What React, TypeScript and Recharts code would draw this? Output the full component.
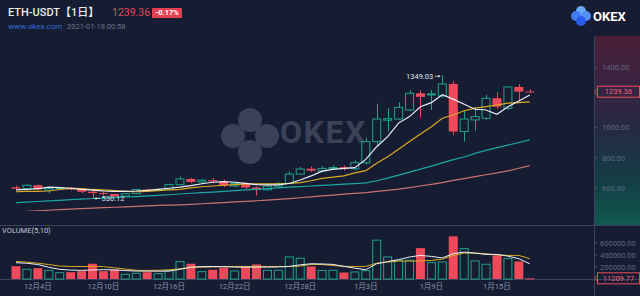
import React from 'react';
import { ComposedChart, Bar, Line, XAxis, YAxis, ReferenceDot, ReferenceLine } from 'recharts';

const dates = [
  '12月2日','12月3日','12月4日','12月5日','12月6日','12月7日','12月8日','12月9日','12月10日','12月11日',
  '12月12日','12月13日','12月14日','12月15日','12月16日','12月17日','12月18日','12月19日','12月20日','12月21日',
  '12月22日','12月23日','12月24日','12月25日','12月26日','12月27日','12月28日','12月29日','12月30日','12月31日',
  '1月1日','1月2日','1月3日','1月4日','1月5日','1月6日','1月7日','1月8日','1月9日','1月10日',
  '1月11日','1月12日','1月13日','1月14日','1月15日','1月16日','1月17日','1月18日',
];
const tickDates = ['12月4日','12月10日','12月16日','12月22日','12月28日','1月3日','1月9日','1月15日'];

const opens = [605,596,618,584,596,602,592,575,566,560,546,562,590,584,590,622,660,640,652,644,613,630,603,588,612,630,692,728,713,730,738,728,768,908,1050,1058,1118,1229,1218,1211,1291,975,1052,1063,1196,1129,1271,1241];
const highs = [615,625,624,600,606,605,596,582,578,563,566,595,594,597,628,676,668,660,665,655,636,638,610,620,640,710,740,742,745,750,748,785,935,1160,1130,1170,1250,1250,1251,1349.03,1311,1118,1140,1218,1235,1275,1290,1255];
const lows = [588,590,584,565,586,584,566,530.12,550,536,541,558,576,578,585,618,632,634,630,606,605,595,550,585,608,626,688,705,705,722,715,716,755,886,975,1050,1110,1069,1118,1200,952,908,982,1052,1125,1118,1180,1230];
const closes = [596,618,590,596,602,592,575,566,560,546,562,590,584,590,622,660,640,652,644,615,630,603,588,612,630,692,726,715,730,736,728,768,908,1058,1060,1135,1229,1205,1225,1291,975,1058,1074,1196,1140,1271,1240,1239.36];

const ma5 = [587,590,595,605,602,598,591,586,580,578,578,580,584,591,598,605,615,628,638,642,638,630,622,620,620,630,653,680,712,724,730,735,790,874,941,1031,1074,1140,1167,1220,1190,1156,1123,1118,1090,1140,1178,1218];
const ma10 = [575,577,578,580,590,597,595,590,587,582,578,575,578,582,587,591,600,608,613,618,622,627,627,627,627,630,635,648,664,672,680,700,715,764,808,857,908,959,1007,1063,1085,1113,1130,1140,1151,1163,1167,1172];
const ma30 = [502,506,510,514,518,522,526,530,533,536,540,543,547,551,555,560,565,569,573,578,582,587,591,596,600,605,609,613,617,621,625,629,634,648,665,685,705,725,745,767,788,806,830,850,868,885,902,919];
const ma60 = [440,444,448,452,456,460,463,466,469,472,475,478,481,484,486,488,491,495,499,503,507,511,515,519,524,529,535,541,547,553,559,564,569,577,584,592,602,613,624,636,650,662,675,688,700,714,731,748];

const volumes = [213000,170000,180000,153000,113000,113000,130000,253000,130000,158000,87000,103000,113000,97000,153000,297000,253000,130000,153000,187000,142000,208000,242000,153000,153000,375000,353000,208000,150000,153000,108000,125000,147000,653000,375000,320000,320000,513000,280000,292000,708000,513000,308000,253000,392000,347000,292000,11209.77];
const volMa5 = [270000,262000,240000,195000,160000,148000,142000,150000,155000,150000,140000,132000,130000,130000,130000,160000,197000,205000,208000,205000,197000,197000,197000,197000,200000,208000,235000,253000,250000,242000,210000,180000,155000,253000,290000,320000,365000,392000,375000,350000,420000,447000,430000,408000,408000,380000,337000,253000];
const volMa10 = [292000,280000,263000,240000,215000,208000,208000,208000,205000,185000,165000,145000,142000,145000,153000,170000,190000,197000,200000,205000,208000,208000,208000,208000,208000,208000,215000,242000,240000,225000,210000,208000,208000,263000,280000,297000,297000,300000,308000,330000,392000,430000,430000,420000,400000,392000,392000,337000];

const priceTicks = [600, 800, 1000, 1400];
const volTicks = [200000, 400000, 600000];

const GREEN = '#1fa387';
const RED = '#ee4a5b';
const BG = '#161d33';
const AXIS = '#3a4260';
const FONT = "Roboto, 'Noto Sans CJK SC', sans-serif";

const data = dates.map((date, i) => ({
  date,
  range: [lows[i], highs[i]],
  open: opens[i],
  high: highs[i],
  low: lows[i],
  close: closes[i],
  ma5: ma5[i],
  ma10: ma10[i],
  ma30: ma30[i],
  ma60: ma60[i],
  volume: volumes[i],
  up: closes[i] >= opens[i],
  vma5: volMa5[i],
  vma10: volMa10[i],
}));

let hiIdx = 0;
let loIdx = 0;
highs.forEach((h, i) => { if (h > highs[hiIdx]) hiIdx = i; });
lows.forEach((l, i) => { if (l < lows[loIdx]) loIdx = i; });
const last = data.length - 1;

const Candle = (props: any) => {
  const { x, y, width, height, payload } = props;
  if (x == null || y == null) return null;
  const top = Math.min(y, y + height);
  const h = Math.abs(height);
  const { open, close, high, low } = payload;
  const up = close >= open;
  const color = up ? GREEN : RED;
  const k = high - low > 0 ? h / (high - low) : 0;
  const bTop = top + (high - Math.max(open, close)) * k;
  const bBot = top + (high - Math.min(open, close)) * k;
  const cx = Math.round(x + width / 2) + 0.5;
  const bh = Math.max(bBot - bTop, 1);
  if (up) {
    return (
      <g>
        <line x1={cx} x2={cx} y1={top} y2={bTop} stroke={color} strokeWidth={1} />
        <line x1={cx} x2={cx} y1={bTop + bh} y2={top + h} stroke={color} strokeWidth={1} />
        <rect x={x + 0.5} y={bTop} width={width - 1} height={bh} fill="none" stroke={color} strokeWidth={1} />
      </g>
    );
  }
  return (
    <g>
      <line x1={cx} x2={cx} y1={top} y2={top + h} stroke={color} strokeWidth={1} />
      <rect x={x} y={bTop} width={width} height={bh} fill={color} />
    </g>
  );
};

const VolBar = (props: any) => {
  const { x, y, width, height, payload } = props;
  if (x == null || y == null) return null;
  const top = Math.min(y, y + height);
  const h = Math.max(Math.abs(height), 1);
  if (payload.up) {
    return <rect x={x + 0.5} y={top + 0.5} width={width - 1} height={h - 0.5} fill="none" stroke={GREEN} strokeWidth={1} />;
  }
  return <rect x={x} y={top} width={width} height={h} fill={RED} />;
};

const marker = (text: string) => (props: any) => {
  const vb = props.viewBox || {};
  const cy = vb.y;
  const xr = (vb.x || 0) + (vb.width || 0);
  return (
    <g>
      <path d={`M${xr + 3} ${cy - 3} L${xr + 1} ${cy} L${xr + 3} ${cy + 3}`} fill="none" stroke={RED} strokeWidth={0.8} />
      <rect x={xr + 3.5} y={cy - 5.5} width={42} height={11} fill="none" stroke={RED} strokeWidth={1} />
      <text x={xr + 24.5} y={cy} dy="0.35em" textAnchor="middle" fill="#f2627a" fontSize={7.5} fontFamily={FONT}>{text}</text>
    </g>
  );
};

const hiLabel = (props: any) => {
  const { x, y } = props.viewBox || {};
  return (
    <g>
      <text x={x - 9} y={y + 1} dy="0.35em" textAnchor="end" fill="#dfe1e8" fontSize={7.5} fontFamily={FONT}>{highs[hiIdx].toFixed(2)}</text>
      <line x1={x - 7.5} x2={x - 2} y1={y + 1} y2={y + 1} stroke="#dfe1e8" strokeWidth={0.8} />
      <path d={`M${x - 4} ${y - 0.5} L${x - 2} ${y + 1} L${x - 4} ${y + 2.5}`} fill="#dfe1e8" />
    </g>
  );
};

const loLabel = (props: any) => {
  const { x, y } = props.viewBox || {};
  return (
    <g>
      <line x1={x + 2} x2={x + 7.5} y1={y} y2={y} stroke="#dfe1e8" strokeWidth={0.8} />
      <path d={`M${x + 4} ${y - 1.5} L${x + 2} ${y} L${x + 4} ${y + 1.5}`} fill="#dfe1e8" />
      <text x={x + 9} y={y} dy="0.35em" textAnchor="start" fill="#dfe1e8" fontSize={7.5} fontFamily={FONT}>{lows[loIdx].toFixed(2)}</text>
    </g>
  );
};

const PAD = { left: 10.5, right: 58.8 };
const tickStyle = { fill: '#5f6783', fontSize: 7.5, fontFamily: FONT };

export default function App() {
  return (
    <div style={{ position: 'fixed', left: 0, top: 0, width: 640, height: 296, background: BG, overflow: 'hidden', fontFamily: FONT }}>
      {/* right axis gradient */}
      <div style={{ position: 'absolute', left: 595, top: 36, width: 45, height: 189, background: 'linear-gradient(to bottom, #4a1f37 0%, #3a2340 25%, #242a44 50%, #123f45 78%, #0f5a4f 100%)' }} />
      {/* watermark */}
      <svg width={200} height={80} style={{ position: 'absolute', left: 210, top: 95 }}>
        <g fill="#3a4257">
          <circle cx={40} cy={25} r={12} />
          <circle cx={23} cy={41} r={12} />
          <circle cx={57} cy={41} r={12} />
          <circle cx={40} cy={57} r={12} />
        </g>
        <rect x={37.5} y={38.5} width={5} height={5} fill={BG} transform="rotate(45 40 41)" />
        <text x={70} y={48} fill="#3a4257" fontSize={32} fontWeight={700} fontFamily="Roboto, sans-serif" letterSpacing={1.5}>OKEX</text>
      </svg>
      {/* header */}
      <div style={{ position: 'absolute', left: 8, top: 6, fontSize: 11, lineHeight: '13px', color: '#e8eaf0', fontWeight: 500, whiteSpace: 'nowrap' }}>ETH-USDT【1日】</div>
      <div style={{ position: 'absolute', left: 112, top: 6.5, fontSize: 10.5, lineHeight: '12px', color: '#e2475a', whiteSpace: 'nowrap' }}>1239.36</div>
      <div style={{ position: 'absolute', left: 152, top: 7.5, width: 30, height: 10, background: '#e4404f', color: '#ffffff', fontSize: 7.5, lineHeight: '10px', fontWeight: 700, textAlign: 'center', borderRadius: 1 }}>-0.17%</div>
      <div style={{ position: 'absolute', left: 8, top: 21.5, fontSize: 8, lineHeight: '10px', color: '#3569d8', whiteSpace: 'nowrap' }}>www.okex.com</div>
      <div style={{ position: 'absolute', left: 67, top: 21.5, fontSize: 7.5, lineHeight: '10px', color: '#6a728c', whiteSpace: 'nowrap' }}>2021-01-18 00:58</div>
      {/* logo */}
      <svg width={72} height={24} style={{ position: 'absolute', left: 566, top: 3 }}>
        <circle cx={15} cy={8} r={5} fill="#6aa8f8" />
        <circle cx={10} cy={13} r={5} fill="#3f7cf4" />
        <circle cx={20} cy={13} r={5} fill="#5590f6" />
        <circle cx={15} cy={18} r={5} fill="#2a5cea" />
        <text x={27} y={18} fill="#ffffff" fontSize={13} fontWeight={700} fontFamily="Roboto, sans-serif">OKEX</text>
      </svg>
      {/* divider lines */}
      <div style={{ position: 'absolute', left: 0, top: 225, width: 640, height: 1, background: AXIS }} />
      <div style={{ position: 'absolute', left: 0, top: 279, width: 640, height: 1, background: AXIS }} />
      <div style={{ position: 'absolute', left: 594, top: 36, width: 1, height: 260, background: AXIS }} />
      <div style={{ position: 'absolute', left: 2, top: 226, fontSize: 7.5, lineHeight: '10px', color: '#c3c7d3', whiteSpace: 'nowrap' }}>VOLUME(5,10)</div>

      {/* price chart */}
      <div style={{ position: 'absolute', left: 0, top: 40, width: 640, height: 171 }}>
        <ComposedChart width={640} height={171} data={data} margin={{ top: 0, right: 0, bottom: 0, left: 0 }}>
          <XAxis dataKey="date" hide padding={PAD} />
          <YAxis orientation="right" width={46} domain={[447, 1583]} allowDataOverflow ticks={priceTicks} interval={0}
            tickFormatter={(v: number) => v.toFixed(2)} axisLine={false} tickLine={{ stroke: '#4a5270' }} tickSize={3} tickMargin={5} tick={tickStyle} />
          <Bar dataKey="range" shape={Candle} barSize={9} isAnimationActive={false} />
          <Line type="linear" dataKey="ma60" stroke="#c9736f" strokeWidth={1.2} dot={false} isAnimationActive={false} />
          <Line type="linear" dataKey="ma30" stroke="#1ba6a4" strokeWidth={1.2} dot={false} isAnimationActive={false} />
          <Line type="linear" dataKey="ma10" stroke="#d9aa22" strokeWidth={1.2} dot={false} isAnimationActive={false} />
          <Line type="linear" dataKey="ma5" stroke="#eceef4" strokeWidth={1.2} dot={false} isAnimationActive={false} />
          <ReferenceDot x={dates[hiIdx]} y={highs[hiIdx]} r={0} fill="none" stroke="none" label={{ content: hiLabel }} />
          <ReferenceDot x={dates[loIdx]} y={lows[loIdx]} r={0} fill="none" stroke="none" label={{ content: loLabel }} />
          <ReferenceLine y={closes[last]} stroke="none" label={{ content: marker(closes[last].toFixed(2)) }} />
        </ComposedChart>
      </div>

      {/* volume chart */}
      <div style={{ position: 'absolute', left: 0, top: 226, width: 640, height: 70 }}>
        <ComposedChart width={640} height={70} data={data} margin={{ top: 0, right: 0, bottom: 0, left: 0 }}>
          <XAxis dataKey="date" padding={PAD} height={17} interval={0} axisLine={false} tickLine={false} tickSize={3} tickMargin={2}
            tickFormatter={(v: string) => (tickDates.includes(v) ? v : '')} tick={{ fill: '#8b92aa', fontSize: 7.5, fontFamily: FONT }} />
          <YAxis orientation="right" width={46} domain={[0, 880000]} ticks={volTicks} interval={0}
            tickFormatter={(v: number) => v.toFixed(2)} axisLine={false} tickLine={{ stroke: '#4a5270' }} tickSize={3} tickMargin={3} tick={tickStyle} />
          <Bar dataKey="volume" shape={VolBar} barSize={9} isAnimationActive={false} />
          <Line type="linear" dataKey="vma10" stroke="#d9aa22" strokeWidth={1} dot={false} isAnimationActive={false} />
          <Line type="linear" dataKey="vma5" stroke="#eceef4" strokeWidth={1} dot={false} isAnimationActive={false} />
          <ReferenceLine y={volumes[last]} stroke="none" label={{ content: marker(volumes[last].toFixed(2)) }} />
        </ComposedChart>
      </div>
    </div>
  );
}
